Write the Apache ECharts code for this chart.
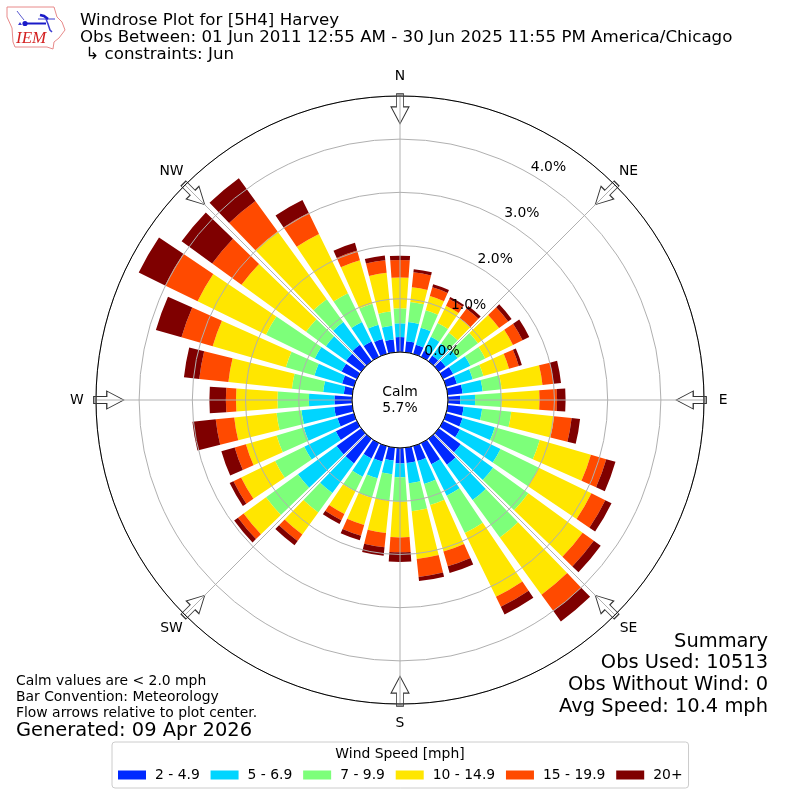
<!DOCTYPE html>
<html><head><meta charset="utf-8">
<script src="https://cdn.jsdelivr.net/npm/echarts@6/dist/echarts.min.js"></script>
<style>html,body{margin:0;padding:0;background:#fff}#c{width:800px;height:800px}</style>
</head><body><div id="c"></div>
<script>
const directions=[10,20,30,40,50,60,70,80,90,100,110,120,130,140,150,160,170,180,190,200,210,220,230,240,250,260,270,280,290,300,310,320,330,340,350,360];
const speed2to5=[.21,.18,.13,.13,.16,.21,.21,.28,.23,.30,.32,.35,.51,.60,.44,.29,.29,.29,.24,.30,.32,.57,.57,.44,.32,.34,.33,.16,.23,.32,.35,.38,.32,.29,.24,.28];
const speed5to7=[.36,.33,.29,.28,.28,.36,.31,.38,.28,.35,.63,.85,.75,.82,.66,.45,.38,.26,.26,.33,.38,.69,.90,.66,.66,.62,.48,.39,.54,.56,.47,.53,.41,.28,.26,.26];
const speed7to10=[.38,.34,.29,.25,.47,.31,.21,.36,.50,.55,.88,.80,.82,.87,.78,.41,.53,.46,.50,.38,.31,.45,.74,.61,.53,.47,.59,.59,.56,1.02,.46,.53,.60,.41,.27,.28];
const speed10to15=[.28,.28,.36,.34,.49,.58,.50,.77,.71,.81,1.00,1.10,1.26,1.33,1.33,.91,.90,.67,.61,.53,.47,.51,.52,.71,.60,.80,.78,1.20,1.43,1.43,1.50,1.57,1.24,.85,.73,.58];
const speed15to20=[.28,.17,.14,.22,.21,.20,.19,.21,.33,.33,.30,.29,.26,.38,.21,.29,.34,.28,.27,.21,.13,.15,.13,.16,.22,.35,.19,.55,.61,.68,.68,.71,.44,.19,.24,.33];
const speed20plus=[.06,.06,.04,.06,.08,.14,.06,.14,.16,.16,.18,.13,.16,.24,.16,.13,.08,.18,.16,.09,.08,.10,.09,.08,.26,.44,.31,.29,.50,.55,.71,.53,.27,.15,.09,.08];
const speedNames=['2 - 4.9','5 - 6.9','7 - 9.9','10 - 14.9','15 - 19.9','20+'];
const speedColors=['#0029ff','#00d5ff','#7dff7a','#ffe600','#ff4a00','#7f0000'];
const speedValues=[speed2to5,speed5to7,speed7to10,speed10to15,speed15to20,speed20plus];
const compassLabels=['N','NE','E','SE','S','SW','W','NW'];
const compassAngles=[360,45,90,135,180,225,270,315];
const radiusTicks=[0,1,2,3,4];
const radiusLabelAngle=30;
const arrowRadius=4.57;
const compassLabelRadius=5.17;
const FONT='"DejaVu Sans"';
const titleLines=['Windrose Plot for [5H4] Harvey','Obs Between: 01 Jun 2011 12:55 AM - 30 Jun 2025 11:55 PM America/Chicago',' ↳ constraints: Jun'];
const noteLines=['Calm values are < 2.0 mph','Bar Convention: Meteorology','Flow arrows relative to plot center.'];
const generated='Generated: 09 Apr 2026';
const summaryLines=['Summary','Obs Used: 10513','Obs Without Wind: 0','Avg Speed: 10.4 mph'];
const legendTitle='Wind Speed [mph]';
const calmText='Calm\n5.7%';

function txt(x,y,text,size,align){return {type:'text',x:x,y:y,silent:true,z:20,style:{text:text,fill:'#000',font:size+'px '+FONT,textAlign:align||'left',textVerticalAlign:'middle'}};}
const graphics=[];
titleLines.forEach((t,i)=>graphics.push(txt(80,[21,38,55][i],t,16.67)));
noteLines.forEach((t,i)=>graphics.push(txt(16,[681,697,713][i],t,13.9)));
graphics.push(txt(16,731,generated,19.44));
summaryLines.forEach((t,i)=>graphics.push(txt(768,[641.5,662.5,684.5,706.5][i],t,19.44,'right')));
graphics.push(txt(400,754,legendTitle,13.9,'center'));
graphics.push({type:'text',x:400,y:400,silent:true,z:20,style:{text:calmText,fill:'#000',font:'13.9px '+FONT,lineHeight:16,textAlign:'center',textVerticalAlign:'middle'}});
// IEM logo
graphics.push({type:'polygon',silent:true,z:20,shape:{points:[[7,7],[54,7],[57,17],[62,22],[65,30],[59,38],[54,42],[53,49],[47,47],[15,47],[13,42],[12,28],[7,17]]},style:{fill:'none',stroke:'#e88a8a',lineWidth:1}});
graphics.push({type:'line',silent:true,z:20,shape:{x1:25,y1:23.5,x2:46,y2:23.5},style:{stroke:'#1a1ac8',lineWidth:2}});
graphics.push({type:'line',silent:true,z:20,shape:{x1:38,y1:19,x2:55,y2:19},style:{stroke:'#3a3ad0',lineWidth:1}});
graphics.push({type:'circle',silent:true,z:20,shape:{cx:25,cy:23.5,r:2.6},style:{fill:'#1a1ac8'}});
graphics.push({type:'polygon',silent:true,z:20,shape:{points:[[20,22],[22,25],[18,25]]},style:{fill:'#3a3ad0'}});
graphics.push({type:'polyline',silent:true,z:20,shape:{points:[[17,11],[20,15],[24,20]]},style:{stroke:'#5a5ad0',lineWidth:1,fill:'none'}});
graphics.push({type:'polyline',silent:true,z:20,shape:{points:[[40,15],[44,16],[48,19]]},style:{stroke:'#1a1ac8',lineWidth:2.5,fill:'none'}});
graphics.push({type:'polyline',silent:true,z:20,shape:{points:[[46,19],[48,24],[50,30],[52,32]]},style:{stroke:'#3a3ad0',lineWidth:1.5,fill:'none'}});
graphics.push({type:'text',x:16,y:39,silent:true,z:20,style:{text:'IEM',fill:'#d42020',font:'italic 17px "Liberation Serif"',textAlign:'left',textVerticalAlign:'middle'}});

const series=speedNames.map((name,i)=>({
  type:'bar',name:name,coordinateSystem:'polar',stack:'wind',barWidth:'80%',
  itemStyle:{color:speedColors[i]},silent:true,
  data:directions.map((d,j)=>[speedValues[i][j],d])
}));
series.push({
  type:'scatter',coordinateSystem:'polar',silent:true,z:3,clip:false,
  symbol:'path://M-3.5 0L3.5 0L3.5 13L9 13L0 30L-9 13L-3.5 13Z',symbolSize:[18,30],
  symbolRotate:p=>-p[1],
  itemStyle:{color:'rgba(255,255,255,0.75)',borderColor:'#333',borderWidth:1,opacity:1},
  data:compassAngles.map(a=>[arrowRadius,a])
});
series.push({
  type:'scatter',coordinateSystem:'polar',silent:true,z:8,clip:false,symbolSize:0,itemStyle:{opacity:1},
  label:{show:true,position:'inside',align:'center',verticalAlign:'middle',color:'#000',opacity:1,fontFamily:FONT,fontSize:13.9,
    formatter:p=>compassLabels[p.dataIndex]},
  data:compassAngles.map(a=>[compassLabelRadius,a])
});
series.push({
  type:'scatter',coordinateSystem:'polar',silent:true,z:8,clip:false,symbolSize:0,itemStyle:{opacity:1},
  label:{show:true,position:'inside',offset:[18,-7],align:'center',verticalAlign:'middle',color:'#000',opacity:1,fontFamily:FONT,fontSize:13.9,
    formatter:p=>p.value[0].toFixed(1)+'%'},
  data:radiusTicks.map(v=>[v,radiusLabelAngle])
});

const option={
  animation:false,backgroundColor:'#fff',
  polar:{center:[400,400],radius:[48,304]},
  angleAxis:{type:'value',min:0,max:360,interval:45,startAngle:90,clockwise:true,z:6,
    axisLine:{show:true,lineStyle:{color:'#000',width:1}},axisTick:{show:false},axisLabel:{show:false},
    splitLine:{show:true,lineStyle:{color:'#b0b0b0',width:1}}},
  radiusAxis:{type:'value',min:0,max:4.81,interval:1,z:5,
    axisLine:{show:false},axisTick:{show:false},axisLabel:{show:false},
    splitLine:{show:true,lineStyle:{color:'#b0b0b0',width:1}}},
  legend:{show:true,left:112,top:742,orient:'horizontal',icon:'rect',itemWidth:28,itemHeight:9,itemGap:10.8,
    selectedMode:false,data:speedNames,padding:[26,6,6,6],
    backgroundColor:'#fff',borderColor:'#ccc',borderWidth:1,borderRadius:3,
    textStyle:{color:'#000',fontFamily:FONT,fontSize:13.9,padding:[0,0,0,4]}},
  graphic:graphics,
  series:series
};
const chart=echarts.init(document.getElementById('c'),null,{renderer:'canvas'});
chart.setOption(option);
</script></body></html>
